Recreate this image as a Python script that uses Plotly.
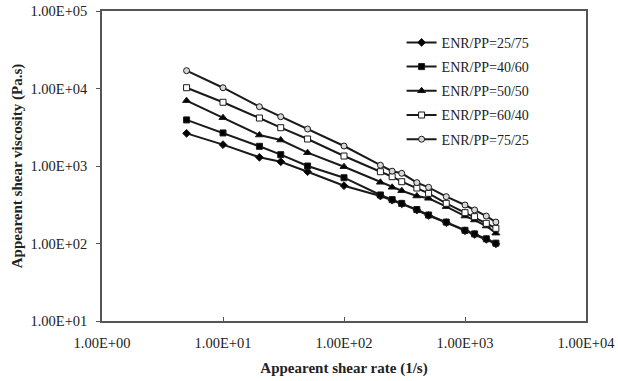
import plotly.graph_objects as go

shear_rate = [5, 10, 20, 30, 50, 100, 200, 250, 300, 400, 500, 700, 1000, 1200, 1500, 1800]

visc_25_75 = [2640, 1885, 1295, 1135, 844, 557, 410, 362, 325, 270, 230, 186, 146, 131, 113, 99]
visc_40_60 = [3930, 2670, 1795, 1400, 1000, 706, 423, 368, 329, 274, 233, 189, 148, 133, 115, 101]
visc_50_50 = [6970, 4200, 2510, 2165, 1485, 979, 616, 531, 480, 410, 383, 299, 226, 201, 168, 136]
visc_60_40 = [10230, 6640, 4160, 3120, 2230, 1345, 844, 728, 627, 520, 444, 330, 250, 222, 182, 157]
visc_75_25 = [16990, 10230, 5820, 4324, 3002, 1811, 1023, 857, 805, 610, 531, 402, 314, 271, 226, 189]

series_names = ["ENR/PP=25/75", "ENR/PP=40/60", "ENR/PP=50/50", "ENR/PP=60/40", "ENR/PP=75/25"]
series_values = [visc_25_75, visc_40_60, visc_50_50, visc_60_40, visc_75_25]
symbols = ["diamond", "square", "triangle-up", "square", "circle"]
fills = ["black", "black", "black", "white", "#d8d8d8"]
sizes = [6, 6, 7, 6, 6]

x_ticks = [1, 10, 100, 1000, 10000]
x_tick_labels = ["1.00E+00", "1.00E+01", "1.00E+02", "1.00E+03", "1.00E+04"]
y_ticks = [10, 100, 1000, 10000, 100000]
y_tick_labels = ["1.00E+01", "1.00E+02", "1.00E+03", "1.00E+04", "1.00E+05"]

fig = go.Figure()
for i, (name, vals, sym, fc, sz) in enumerate(zip(series_names, series_values, symbols, fills, sizes)):
    fig.add_trace(go.Scatter(
        x=shear_rate, y=vals, name=name, mode="lines+markers", legendgroup=f"g{i}",
        line=dict(color="#1a1a1a", width=2),
        marker=dict(symbol=sym, size=sz, color=fc, line=dict(color="#1a1a1a", width=1)),
    ))

serif = "Liberation Serif, Times New Roman, serif"
fig.update_layout(
    width=618, height=381,
    margin=dict(l=102, r=32, t=11, b=60, autoexpand=False),
    paper_bgcolor="white", plot_bgcolor="white",
    font=dict(family=serif, size=14.5, color="#222222"),
    showlegend=True,
    legend=dict(x=0.619, y=0.949, xanchor="left", yanchor="top",
                bgcolor="rgba(0,0,0,0)", font=dict(family=serif, size=14, color="#222222"),
                itemwidth=30, tracegroupgap=3),
    xaxis=dict(type="log", range=[0, 4], tickvals=x_ticks, ticktext=x_tick_labels,
               showgrid=False, zeroline=False, showline=True, linecolor="#555555", linewidth=1.5,
               mirror=True, ticks="inside", ticklen=4, tickcolor="#555555", ticklabelstandoff=8,
               title=dict(text="<b>Appearent shear rate (1/s)</b>", font=dict(family=serif, size=15), standoff=12)),
    yaxis=dict(type="log", range=[1, 5], tickvals=y_ticks, ticktext=y_tick_labels,
               showgrid=False, zeroline=False, showline=True, linecolor="#555555", linewidth=1.5,
               mirror=True, ticks="outside", ticklen=4, tickcolor="#555555", ticklabelstandoff=6,
               title=dict(text="<b>Appearent shear viscosity (Pa.s)</b>", font=dict(family=serif, size=15), standoff=4)),
)

fig.write_html("out.html")
